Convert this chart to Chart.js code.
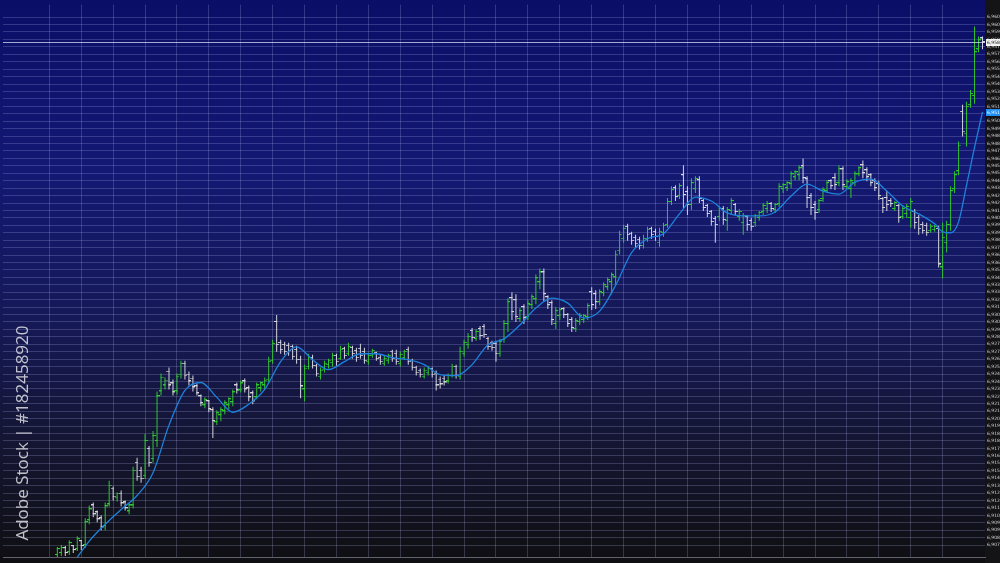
<!DOCTYPE html>
<html>
<head>
<meta charset="utf-8">
<title>OHLC price chart</title>
<script src="https://cdn.jsdelivr.net/npm/chart.js@4.4.1/dist/chart.umd.min.js"></script>
<style>
  html, body { margin: 0; padding: 0; background: #0f0f14; }
  canvas { display: block; }
</style>
</head>
<body>
<canvas id="ohlcChart" width="1000" height="563"></canvas>
<script>
// bar number of the first OHLC bar, one bar per period after it
var firstBar = 10;

var opens = [
  6906.5, 6906.7, 6907.2, 6906.8, 6907.4, 6907.1, 6907.9, 6907.5, 6910.0, 6911.5,
  6910.8, 6910.2, 6909.4, 6911.6, 6913.2, 6912.3, 6912.7, 6911.8, 6910.9, 6911.5,
  6915.8, 6915.0, 6914.5, 6917.2, 6916.2, 6918.0, 6923.0, 6923.6, 6925.0, 6923.8,
  6923.0, 6924.7, 6925.8, 6924.7, 6924.3, 6923.5, 6922.5, 6921.6, 6922.0, 6921.1,
  6919.9, 6920.6, 6921.0, 6921.6, 6921.9, 6923.6, 6923.1, 6924.0, 6923.3, 6922.8,
  6922.4, 6923.3, 6923.6, 6924.2, 6926.1, 6930.0, 6927.9, 6927.7, 6927.6, 6927.5,
  6927.2, 6926.2, 6923.2, 6925.5, 6926.4, 6925.6, 6924.5, 6925.2, 6925.7, 6925.9,
  6926.6, 6926.3, 6927.3, 6926.8, 6927.4, 6927.1, 6927.3, 6927.0, 6926.0, 6926.6,
  6926.9, 6926.4, 6925.8, 6926.1, 6927.0, 6926.8, 6925.8, 6926.4, 6927.2, 6926.1,
  6925.4, 6925.1, 6924.5, 6924.9, 6925.3, 6924.8, 6924.2, 6924.3, 6924.0, 6924.6,
  6925.5, 6924.5, 6926.8, 6927.7, 6929.1, 6928.3, 6929.3, 6929.5, 6928.3, 6927.9,
  6927.8, 6926.8, 6928.2, 6929.8, 6932.4, 6932.2, 6930.3, 6931.5, 6930.5, 6931.7,
  6932.3, 6934.0, 6935.0, 6932.5, 6931.9, 6929.8, 6930.6, 6931.3, 6930.7, 6930.2,
  6929.3, 6930.0, 6930.2, 6930.5, 6933.0, 6932.8, 6932.0, 6932.9, 6933.5, 6934.0,
  6934.5, 6937.2, 6938.4, 6939.6, 6938.9, 6938.5, 6938.3, 6937.7, 6938.4, 6939.4,
  6939.1, 6938.0, 6939.0, 6939.8, 6942.1, 6943.5, 6942.7, 6944.8, 6943.1, 6941.8,
  6943.4, 6944.3, 6942.2, 6941.7, 6941.1, 6940.4, 6940.6, 6941.4, 6940.2, 6941.2,
  6941.8, 6940.6, 6940.0, 6940.6, 6940.2, 6940.0, 6940.5, 6941.1, 6941.4, 6941.9,
  6941.3, 6941.9, 6943.4, 6943.5, 6943.9, 6944.6, 6944.8, 6945.7, 6944.4, 6942.7,
  6941.8, 6941.3, 6942.4, 6943.2, 6944.2, 6944.5, 6944.0, 6945.4, 6943.6, 6943.4,
  6944.0, 6944.9, 6945.8, 6945.3, 6944.8, 6944.2, 6943.9, 6942.4, 6942.5, 6942.2,
  6941.4, 6941.7, 6940.6, 6940.9, 6940.5, 6941.1, 6940.5, 6939.8, 6939.7, 6939.2,
  6939.3, 6939.4, 6935.5, 6938.0, 6939.8, 6943.4, 6945.2, 6951.2, 6949.0, 6951.9,
  6952.8, 6957.5, 6958.6
];
var highs = [
  6907.3, 6907.5, 6907.4, 6908.0, 6907.5, 6908.4, 6908.0, 6910.2, 6911.5, 6911.8,
  6911.0, 6910.5, 6911.8, 6914.0, 6913.4, 6912.8, 6913.0, 6912.0, 6911.7, 6915.4,
  6916.3, 6915.4, 6918.7, 6917.5, 6919.0, 6923.0, 6924.8, 6924.4, 6925.4, 6924.2,
  6924.8, 6926.1, 6926.1, 6925.0, 6924.6, 6923.8, 6922.7, 6922.4, 6922.1, 6921.4,
  6921.1, 6921.4, 6922.1, 6922.4, 6923.2, 6923.9, 6924.1, 6924.3, 6923.6, 6923.1,
  6923.9, 6924.0, 6924.4, 6926.5, 6928.2, 6930.7, 6928.2, 6928.0, 6927.9, 6927.7,
  6927.6, 6926.6, 6925.7, 6926.8, 6926.7, 6925.8, 6925.4, 6926.1, 6926.3, 6926.9,
  6926.8, 6927.6, 6927.5, 6927.9, 6927.6, 6927.4, 6927.8, 6927.4, 6926.9, 6927.3,
  6927.0, 6926.7, 6926.6, 6926.8, 6927.2, 6927.2, 6927.0, 6927.2, 6927.5, 6926.3,
  6925.6, 6925.3, 6925.4, 6925.6, 6925.4, 6925.1, 6924.5, 6924.6, 6924.8, 6925.8,
  6925.7, 6927.5, 6928.2, 6928.9, 6929.4, 6929.3, 6929.6, 6929.8, 6928.5, 6928.1,
  6928.1, 6928.3, 6930.2, 6932.4, 6933.0, 6932.8, 6931.4, 6931.8, 6932.2, 6932.8,
  6934.8, 6935.4, 6935.4, 6932.7, 6932.2, 6931.5, 6931.4, 6931.5, 6930.9, 6930.5,
  6930.4, 6930.9, 6930.8, 6931.9, 6933.5, 6933.2, 6933.3, 6934.0, 6934.5, 6935.0,
  6937.2, 6939.2, 6939.8, 6939.9, 6939.1, 6938.8, 6938.6, 6938.8, 6939.6, 6939.6,
  6939.4, 6939.5, 6940.0, 6942.5, 6943.7, 6943.8, 6944.0, 6945.8, 6943.7, 6944.5,
  6944.7, 6944.7, 6942.4, 6941.9, 6941.3, 6940.7, 6941.7, 6941.7, 6941.6, 6942.5,
  6942.0, 6941.4, 6941.0, 6940.8, 6940.5, 6940.9, 6941.2, 6942.0, 6942.2, 6942.1,
  6942.0, 6944.0, 6944.0, 6944.2, 6945.2, 6945.3, 6945.8, 6946.5, 6944.7, 6943.0,
  6942.2, 6942.4, 6943.6, 6944.3, 6944.4, 6945.0, 6945.8, 6945.7, 6944.4, 6944.5,
  6945.2, 6945.7, 6946.3, 6945.6, 6945.0, 6944.5, 6944.2, 6942.6, 6943.2, 6942.5,
  6942.2, 6941.9, 6941.8, 6941.9, 6942.5, 6941.4, 6940.8, 6940.1, 6940.0, 6939.9,
  6939.8, 6939.7, 6940.0, 6940.2, 6943.7, 6945.2, 6948.2, 6951.9, 6952.2, 6953.4,
  6959.8, 6958.8, 6958.8
];
var lows = [
  6906.3, 6906.4, 6906.4, 6906.5, 6906.7, 6906.9, 6907.0, 6907.2, 6909.6, 6910.3,
  6909.8, 6909.0, 6909.0, 6911.4, 6912.0, 6911.9, 6911.4, 6911.0, 6910.6, 6911.2,
  6914.0, 6913.8, 6914.2, 6915.4, 6915.8, 6917.4, 6922.6, 6923.2, 6923.2, 6922.6,
  6922.7, 6924.3, 6924.2, 6923.6, 6923.0, 6922.6, 6921.5, 6921.3, 6920.9, 6918.3,
  6919.6, 6920.0, 6920.7, 6921.2, 6921.5, 6922.8, 6922.9, 6922.9, 6922.0, 6921.7,
  6922.2, 6923.0, 6923.2, 6923.9, 6925.8, 6927.0, 6926.8, 6926.7, 6926.6, 6926.2,
  6925.8, 6922.3, 6922.0, 6925.2, 6925.3, 6924.5, 6924.2, 6924.9, 6925.3, 6925.5,
  6925.6, 6926.2, 6926.3, 6926.6, 6926.3, 6926.0, 6926.3, 6925.8, 6925.7, 6926.4,
  6926.1, 6925.7, 6925.6, 6925.8, 6926.0, 6925.7, 6925.5, 6926.2, 6925.7, 6925.1,
  6924.6, 6924.4, 6924.3, 6924.6, 6924.4, 6923.1, 6923.3, 6923.6, 6923.8, 6924.4,
  6924.3, 6924.2, 6926.5, 6927.3, 6928.0, 6928.1, 6928.2, 6928.4, 6927.2, 6927.1,
  6926.0, 6926.5, 6927.9, 6929.0, 6930.2, 6930.0, 6930.0, 6929.8, 6930.2, 6931.3,
  6931.8, 6933.3, 6932.1, 6931.3, 6929.7, 6929.3, 6930.2, 6930.4, 6929.5, 6929.0,
  6929.0, 6929.7, 6929.9, 6930.2, 6931.2, 6931.3, 6931.7, 6932.6, 6933.2, 6932.8,
  6933.7, 6936.8, 6938.0, 6938.2, 6937.8, 6937.5, 6937.3, 6937.4, 6938.1, 6938.4,
  6938.2, 6937.6, 6938.6, 6939.5, 6941.8, 6942.2, 6942.4, 6941.5, 6940.8, 6941.3,
  6943.0, 6942.0, 6941.2, 6940.6, 6939.7, 6938.0, 6940.2, 6939.8, 6939.2, 6940.8,
  6940.8, 6940.2, 6938.8, 6939.2, 6939.2, 6939.6, 6940.2, 6940.8, 6941.0, 6941.1,
  6941.0, 6941.6, 6943.0, 6943.2, 6943.5, 6944.3, 6944.3, 6944.0, 6941.5, 6940.8,
  6940.3, 6941.0, 6942.1, 6943.0, 6943.4, 6943.3, 6943.7, 6943.3, 6943.4, 6942.5,
  6943.7, 6944.7, 6944.5, 6944.2, 6943.7, 6943.2, 6942.3, 6941.0, 6941.2, 6941.6,
  6941.2, 6940.0, 6940.4, 6940.5, 6939.5, 6939.4, 6938.8, 6938.9, 6938.7, 6939.0,
  6939.1, 6935.5, 6934.4, 6937.0, 6939.2, 6943.0, 6944.8, 6948.7, 6947.7, 6951.6,
  6952.0, 6957.2, 6957.5
];
var closes = [
  6907.1, 6907.2, 6906.7, 6907.7, 6907.0, 6908.1, 6907.4, 6909.8, 6911.1, 6910.6,
  6910.1, 6909.3, 6911.4, 6913.5, 6912.4, 6912.7, 6911.7, 6911.2, 6911.5, 6915.0,
  6914.4, 6914.2, 6918.0, 6915.8, 6918.5, 6922.5, 6924.4, 6924.1, 6923.6, 6922.9,
  6924.5, 6925.8, 6924.6, 6924.0, 6923.4, 6922.8, 6921.8, 6922.1, 6921.2, 6920.0,
  6920.8, 6921.1, 6921.8, 6922.2, 6922.9, 6923.1, 6923.8, 6923.2, 6922.4, 6922.0,
  6923.6, 6923.8, 6924.1, 6926.0, 6927.8, 6927.7, 6927.2, 6927.0, 6927.1, 6926.5,
  6926.2, 6923.5, 6925.3, 6926.4, 6925.6, 6924.8, 6925.1, 6925.8, 6926.1, 6926.6,
  6926.0, 6927.2, 6926.6, 6927.5, 6926.8, 6926.4, 6926.6, 6926.1, 6926.6, 6927.1,
  6926.3, 6926.0, 6926.3, 6926.6, 6926.3, 6926.0, 6926.7, 6927.0, 6926.0, 6925.4,
  6924.9, 6924.7, 6925.1, 6925.3, 6924.7, 6923.6, 6923.7, 6923.9, 6924.6, 6925.5,
  6924.6, 6927.0, 6927.9, 6928.5, 6928.4, 6929.0, 6928.6, 6928.7, 6927.5, 6927.4,
  6926.8, 6928.0, 6929.8, 6932.0, 6931.0, 6930.5, 6931.1, 6930.4, 6931.8, 6932.5,
  6934.4, 6935.0, 6932.8, 6931.7, 6930.2, 6931.1, 6931.2, 6930.7, 6929.8, 6929.4,
  6930.1, 6930.6, 6930.6, 6931.6, 6931.7, 6932.0, 6933.0, 6933.7, 6934.2, 6934.7,
  6936.8, 6938.8, 6939.4, 6938.8, 6938.2, 6937.9, 6937.7, 6938.4, 6939.3, 6938.8,
  6938.6, 6939.1, 6939.7, 6942.1, 6943.3, 6942.6, 6943.7, 6942.8, 6941.8, 6944.0,
  6944.4, 6942.4, 6941.5, 6940.9, 6940.1, 6939.8, 6941.4, 6940.3, 6941.3, 6942.2,
  6941.1, 6941.1, 6940.7, 6939.8, 6939.6, 6940.7, 6941.0, 6941.7, 6941.9, 6941.4,
  6941.8, 6943.6, 6943.8, 6944.0, 6944.9, 6945.1, 6945.5, 6944.5, 6942.5, 6941.5,
  6941.0, 6942.2, 6943.3, 6944.0, 6943.7, 6943.8, 6945.4, 6943.8, 6944.1, 6944.2,
  6944.9, 6945.5, 6945.0, 6944.6, 6944.0, 6943.5, 6942.7, 6941.5, 6941.8, 6941.9,
  6942.0, 6940.5, 6941.4, 6941.6, 6942.1, 6940.0, 6939.4, 6939.2, 6939.0, 6939.6,
  6939.6, 6935.8, 6938.5, 6939.8, 6943.2, 6944.8, 6947.8, 6949.2, 6951.7, 6953.0,
  6957.2, 6958.4, 6958.2
];

// moving average at these bar numbers
var maBars = [
  14, 18, 22, 26, 30, 34, 38, 42, 46, 50, 54, 58, 62, 66, 70, 74, 78, 82, 86, 90,
  94, 98, 102, 106, 110, 114, 118, 122, 126, 130, 134, 138, 142, 146, 150, 154, 158, 162, 166, 170,
  174, 178, 182, 186, 190, 194, 198, 202, 206, 210, 214, 218, 222, 226, 230, 232, 234, 236, 238, 240, 242
];
var maValues = [
  6905.7, 6907.9, 6909.6, 6911.1, 6912.5, 6914.8, 6919.6, 6923.1, 6923.9, 6922.4,
  6920.9, 6921.7, 6923.2, 6926.0, 6927.5, 6926.2, 6925.2, 6926.0, 6926.8, 6926.8,
  6926.4, 6926.2, 6925.7, 6924.7, 6924.6, 6925.7, 6927.7, 6928.3, 6929.7, 6931.4,
  6932.4, 6931.9, 6930.4, 6931.1, 6933.7, 6937.0, 6938.4, 6938.9, 6940.9, 6942.6,
  6942.2, 6941.0, 6940.7, 6940.7, 6941.1, 6942.7, 6943.9, 6943.2, 6942.9, 6944.1,
  6944.4, 6943.2, 6941.7, 6940.9, 6939.9, 6939.1, 6939.0, 6940.1, 6943.8, 6947.6, 6951.2
];

var yMin = 6906.3;
var yMax = 6962.0;
var yTop = 6960.75;   // highest labelled grid line
var yStep = 0.75;
var xStep = 8;

var upColor = '#2fc62f';
var downColor = '#d4d4dc';
var gridColor = 'rgba(190, 195, 255, 0.22)';

function isUp(k) {
  return closes[k] >= opens[k];
}

// little horizontal ticks for the open (left) and close (right) marks
function makeTick(color, side) {
  var c = document.createElement('canvas');
  c.width = 5;
  c.height = 2;
  var g = c.getContext('2d');
  g.fillStyle = color;
  g.fillRect(side === 'left' ? 0 : 2, 0, 3, 1);
  return c;
}
var ticks = {
  openUp: makeTick(upColor, 'left'),
  openDown: makeTick(downColor, 'left'),
  closeUp: makeTick(upColor, 'right'),
  closeDown: makeTick(downColor, 'right')
};

var rangeData = highs.map(function (h, k) { return { x: firstBar + k, y: [lows[k], h] }; });
var openData = opens.map(function (o, k) { return { x: firstBar + k, y: o }; });
var closeData = closes.map(function (c, k) { return { x: firstBar + k, y: c }; });
var maData = maBars.map(function (b, k) { return { x: b, y: maValues[k] }; });

function fmt(v) {
  return v.toLocaleString('en-US', { minimumFractionDigits: 2, maximumFractionDigits: 2 });
}

var backdrop = {
  id: 'backdrop',
  beforeDraw: function (chart) {
    var ctx = chart.ctx;
    var g = ctx.createLinearGradient(0, 0, 0, chart.height);
    g.addColorStop(0, '#0a0e66');
    g.addColorStop(0.3, '#131873');
    g.addColorStop(0.55, '#151959');
    g.addColorStop(0.8, '#141530');
    g.addColorStop(1, '#0f0f12');
    ctx.save();
    ctx.fillStyle = g;
    ctx.fillRect(0, 0, chart.width, chart.height);
    ctx.fillStyle = '#141416';
    ctx.fillRect(chart.chartArea.right, 0, chart.width - chart.chartArea.right, chart.height);
    ctx.restore();
  }
};

var markers = {
  id: 'markers',
  afterDraw: function (chart) {
    var ctx = chart.ctx;
    var area = chart.chartArea;
    var y = chart.scales.y;
    var last = Math.round(y.getPixelForValue(closes[closes.length - 1])) + 0.5;
    var maLast = Math.round(y.getPixelForValue(maValues[maValues.length - 1])) + 0.5;
    ctx.save();
    // current price line across the chart
    ctx.strokeStyle = 'rgba(235, 235, 255, 0.7)';
    ctx.lineWidth = 1;
    ctx.beginPath();
    ctx.moveTo(area.left, last);
    ctx.lineTo(area.right, last);
    ctx.stroke();
    ctx.font = '4.5px "DejaVu Sans"';
    ctx.textBaseline = 'middle';
    ctx.fillStyle = '#f2f2f2';
    ctx.fillRect(area.right + 1, last - 3.5, chart.width - area.right - 1, 7);
    ctx.fillStyle = '#111';
    ctx.fillText(fmt(closes[closes.length - 1]), area.right + 2, last);
    ctx.fillStyle = '#1f8ef0';
    ctx.fillRect(area.right + 1, maLast - 3.5, chart.width - area.right - 1, 7);
    ctx.fillStyle = '#fff';
    ctx.fillText(fmt(maValues[maValues.length - 1]), area.right + 2, maLast);
    // stock id down the left side
    ctx.translate(23, 433);
    ctx.rotate(-Math.PI / 2);
    ctx.font = '17px "Open Sans"';
    ctx.textAlign = 'center';
    ctx.fillStyle = 'rgba(225, 225, 230, 0.85)';
    ctx.fillText('Adobe Stock | #182458920', 0, 0);
    ctx.restore();
  }
};

new Chart(document.getElementById('ohlcChart'), {
  type: 'bar',
  data: {
    datasets: [
      {
        type: 'line',
        label: 'Moving average',
        data: maData,
        borderColor: '#1d82dc',
        borderWidth: 1.3,
        pointRadius: 0,
        cubicInterpolationMode: 'monotone',
        fill: false,
        order: 0
      },
      {
        type: 'line',
        label: 'Open',
        data: openData,
        showLine: false,
        pointRadius: 2,
        pointHoverRadius: 2,
        pointStyle: function (ctx) {
          if (ctx.type !== 'data') return 'line';
          return isUp(ctx.dataIndex) ? ticks.openUp : ticks.openDown;
        },
        order: 1
      },
      {
        type: 'line',
        label: 'Close',
        data: closeData,
        showLine: false,
        pointRadius: 2,
        pointHoverRadius: 2,
        pointStyle: function (ctx) {
          if (ctx.type !== 'data') return 'line';
          return isUp(ctx.dataIndex) ? ticks.closeUp : ticks.closeDown;
        },
        order: 1
      },
      {
        label: 'High / Low',
        data: rangeData,
        barThickness: 1,
        inflateAmount: 0,
        borderWidth: 0,
        backgroundColor: function (ctx) {
          if (ctx.type !== 'data') return upColor;
          return isUp(ctx.dataIndex) ? upColor : downColor;
        },
        order: 2
      }
    ]
  },
  options: {
    responsive: false,
    animation: false,
    events: [],
    devicePixelRatio: 1,
    layout: { padding: { left: 0, right: 0, top: 0, bottom: 6 } },
    plugins: {
      legend: { display: false },
      tooltip: { enabled: false }
    },
    scales: {
      x: {
        type: 'linear',
        min: -3.625,
        max: 242.625,
        offset: false,
        grid: { color: gridColor, drawTicks: false, offset: false },
        border: { display: true, color: 'rgba(200, 200, 225, 0.45)' },
        ticks: { display: false, stepSize: xStep },
        afterBuildTicks: function (scale) {
          scale.ticks = scale.ticks.filter(function (t) { return Math.abs(t.value % xStep) < 1e-6; });
        }
      },
      y: {
        position: 'right',
        min: yMin,
        max: yMax,
        grid: { color: gridColor, drawTicks: false },
        border: { display: false },
        ticks: {
          stepSize: yStep,
          autoSkip: false,
          padding: 2,
          color: '#d0d0d4',
          font: { size: 4.5, family: 'DejaVu Sans' },
          callback: function (v) { return fmt(v); }
        },
        afterBuildTicks: function (scale) {
          scale.ticks = scale.ticks.filter(function (t) {
            var r = t.value / yStep;
            return Math.abs(r - Math.round(r)) < 1e-4 && t.value <= yTop + 1e-6;
          });
        },
        afterFit: function (scale) { scale.width = 15; }
      }
    }
  },
  plugins: [backdrop, markers]
});
</script>
</body>
</html>
